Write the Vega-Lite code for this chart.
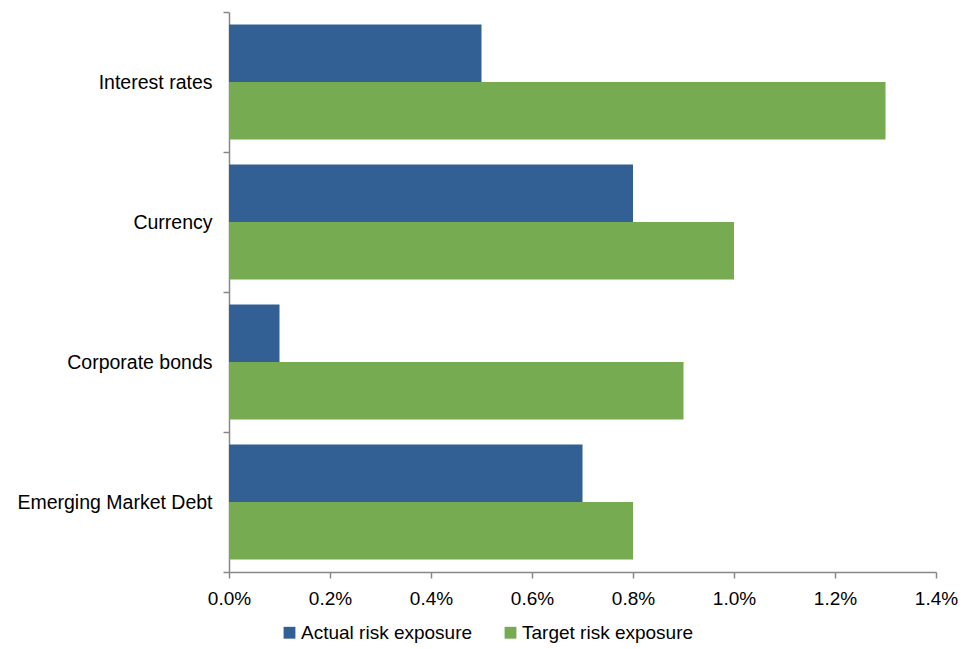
{
  "$schema": "https://vega.github.io/schema/vega-lite/v6.json",
  "width": 707,
  "height": 560,
  "autosize": {"type": "none"},
  "padding": {"left": 229, "top": 12, "right": 24, "bottom": 78},
  "background": "white",
  "config": {
    "view": {"stroke": null},
    "font": "Liberation Sans",
    "axis": {"labelFont": "Liberation Sans", "labelFontSize": 19, "labelColor": "#000000", "domainColor": "#888888", "tickColor": "#888888", "tickSize": 6, "grid": false, "title": null, "labelLimit": 400},
    "legend": {"labelFont": "Liberation Sans", "labelFontSize": 19, "labelColor": "#000000", "labelLimit": 400}
  },
  "data": {
    "values": [
      {"category": "Interest rates", "series": "Actual risk exposure", "value": 0.005},
      {"category": "Interest rates", "series": "Target risk exposure", "value": 0.013},
      {"category": "Currency", "series": "Actual risk exposure", "value": 0.008},
      {"category": "Currency", "series": "Target risk exposure", "value": 0.010},
      {"category": "Corporate bonds", "series": "Actual risk exposure", "value": 0.001},
      {"category": "Corporate bonds", "series": "Target risk exposure", "value": 0.009},
      {"category": "Emerging Market Debt", "series": "Actual risk exposure", "value": 0.007},
      {"category": "Emerging Market Debt", "series": "Target risk exposure", "value": 0.008}
    ]
  },
  "mark": {"type": "bar"},
  "encoding": {
    "y": {
      "field": "category",
      "type": "nominal",
      "sort": ["Interest rates", "Currency", "Corporate bonds", "Emerging Market Debt"],
      "scale": {"paddingInner": 0, "paddingOuter": 0},
      "axis": {"tickBand": "extent", "tickExtra": true, "labelPadding": 11, "labelFontSize": 19.5, "domainWidth": 1.5, "tickWidth": 1.5}
    },
    "yOffset": {
      "field": "series",
      "type": "nominal",
      "sort": ["Actual risk exposure", "Target risk exposure"],
      "scale": {"paddingInner": 0, "paddingOuter": 0.22}
    },
    "x": {
      "field": "value",
      "type": "quantitative",
      "scale": {"domain": [0, 0.014], "nice": false},
      "axis": {"format": ".1%", "values": [0, 0.002, 0.004, 0.006, 0.008, 0.010, 0.012, 0.014], "labelPadding": 11, "domainWidth": 1.5, "tickWidth": 1.5, "labelFlush": false}
    },
    "color": {
      "field": "series",
      "type": "nominal",
      "scale": {"domain": ["Actual risk exposure", "Target risk exposure"], "range": ["#336094", "#77AB51"]},
      "legend": {"title": null, "orient": "none", "direction": "horizontal", "legendX": 51, "legendY": 611, "symbolType": "square", "symbolSize": 140, "symbolStrokeWidth": 0, "labelOffset": 2, "columnPadding": 28}
    }
  }
}
